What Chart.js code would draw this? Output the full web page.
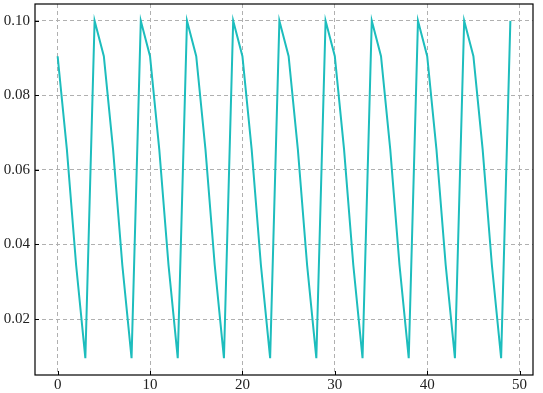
<!DOCTYPE html>
<html>
<head>
<meta charset="utf-8">
<script src="https://cdn.jsdelivr.net/npm/chart.js@4"></script>
<style>
  html, body { margin: 0; padding: 0; background: #fff; }
  #wrap { width: 543px; height: 393px; }
</style>
</head>
<body>
<div id="wrap"><canvas id="lrChart" width="543" height="393"></canvas></div>
<script>
'use strict';

// learning rate per epoch
const epochs = [
   0,  1,  2,  3,  4,  5,  6,  7,  8,  9,
  10, 11, 12, 13, 14, 15, 16, 17, 18, 19,
  20, 21, 22, 23, 24, 25, 26, 27, 28, 29,
  30, 31, 32, 33, 34, 35, 36, 37, 38, 39,
  40, 41, 42, 43, 44, 45, 46, 47, 48, 49,
];
const lrValues = [
  0.0905, 0.0655, 0.0345, 0.0095, 0.1000, 0.0905, 0.0655, 0.0345, 0.0095, 0.1000,
  0.0905, 0.0655, 0.0345, 0.0095, 0.1000, 0.0905, 0.0655, 0.0345, 0.0095, 0.1000,
  0.0905, 0.0655, 0.0345, 0.0095, 0.1000, 0.0905, 0.0655, 0.0345, 0.0095, 0.1000,
  0.0905, 0.0655, 0.0345, 0.0095, 0.1000, 0.0905, 0.0655, 0.0345, 0.0095, 0.1000,
  0.0905, 0.0655, 0.0345, 0.0095, 0.1000, 0.0905, 0.0655, 0.0345, 0.0095, 0.1000,
];
const xTicks = [0, 10, 20, 30, 40, 50];
const yTicks = [0.02, 0.04, 0.06, 0.08, 0.10];

const LINE = '#1dbdbd';
const FONT = { family: "'Liberation Serif', 'DejaVu Serif', serif", size: 15 };

// frame + inward ticks, like matplotlib
const framePlugin = {
  id: 'frame',
  afterDraw(chart) {
    const { ctx, chartArea: a, scales } = chart;
    ctx.save();
    ctx.strokeStyle = '#000';
    ctx.lineWidth = 1.2;
    ctx.strokeRect(a.left, a.top, a.right - a.left, a.bottom - a.top);
    ctx.lineWidth = 1;
    ctx.beginPath();
    xTicks.forEach(v => {
      const x = Math.round(scales.x.getPixelForValue(v)) + 0.5;
      ctx.moveTo(x, a.bottom); ctx.lineTo(x, a.bottom - 4);
    });
    yTicks.forEach(v => {
      const y = Math.round(scales.y.getPixelForValue(v)) + 0.5;
      ctx.moveTo(a.left, y); ctx.lineTo(a.left + 4, y);
    });
    ctx.stroke();
    ctx.restore();
  },
};

new Chart(document.getElementById('lrChart').getContext('2d'), {
  type: 'line',
  data: {
    datasets: [{
      data: epochs.map((e, i) => ({ x: e, y: lrValues[i] })),
      borderColor: LINE,
      borderWidth: 2,
      pointRadius: 0,
      fill: false,
      tension: 0,
    }],
  },
  options: {
    responsive: false,
    animation: false,
    layout: { padding: { top: 4, right: 10, left: 0, bottom: 0 } },
    plugins: { legend: { display: false }, tooltip: { enabled: false } },
    scales: {
      x: {
        type: 'linear',
        min: -2.45, max: 51.45,
        afterBuildTicks: s => { s.ticks = xTicks.map(v => ({ value: v })); },
        afterFit: s => { s.height = 18; s.paddingLeft = 0; s.paddingRight = 0; },
        grid: { color: '#b0b0b0', drawTicks: false, lineWidth: 1 },
        border: { display: false, dash: [4, 3] },
        ticks: { color: '#222', font: FONT, padding: 1, maxRotation: 0 },
      },
      y: {
        type: 'linear',
        min: 0.004975, max: 0.104525,
        afterBuildTicks: s => { s.ticks = yTicks.map(v => ({ value: v })); },
        afterFit: s => { s.width = 35; s.paddingTop = 0; s.paddingBottom = 0; },
        grid: { color: '#b0b0b0', drawTicks: false, lineWidth: 1 },
        border: { display: false, dash: [4, 3] },
        ticks: { color: '#222', font: FONT, padding: 5, callback: v => v.toFixed(2) },
      },
    },
  },
  plugins: [framePlugin],
});
</script>
</body>
</html>
